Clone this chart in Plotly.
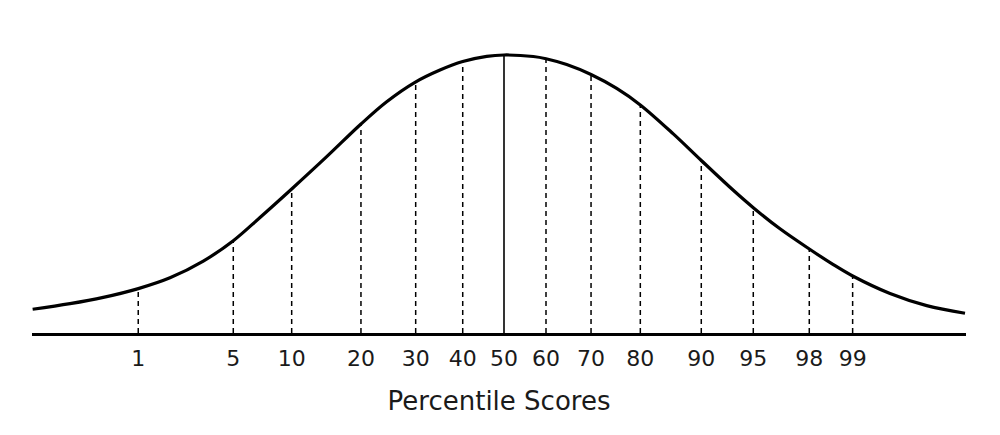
import plotly.graph_objects as go

# Percentile markers: label, position on the score axis (SD units), curve height relative to peak
percentile_labels = ["1", "5", "10", "20", "30", "40", "50", "60", "70", "80", "90", "95", "98", "99"]
percentile_pos = [-2.286, -1.692, -1.327, -0.894, -0.552, -0.258, 0.0, 0.2625, 0.544, 0.852, 1.233, 1.558, 1.908, 2.179]
percentile_height = [0.160, 0.332, 0.518, 0.752, 0.900, 0.976, 1.0, 0.987, 0.930, 0.820, 0.620, 0.451, 0.302, 0.205]

# Bell curve sample points
curve_x = [-2.946, -2.7125, -2.5044, -2.2856, -2.0875, -1.8794, -1.6919, -1.525, -1.3269, -1.1081,
           -0.8938, -0.7331, -0.5563, -0.40, -0.2581, -0.1081, 0.0, 0.1831, 0.2625, 0.3919,
           0.5438, 0.7044, 0.8519, 1.0581, 1.2331, 1.4331, 1.5581, 1.725, 1.9081, 2.0581,
           2.1794, 2.4125, 2.6419, 2.8813]
curve_y = [0.0853, 0.1054, 0.1281, 0.1597, 0.1986, 0.2586, 0.3320, 0.4155, 0.5180, 0.6342,
           0.7518, 0.8320, 0.9018, 0.9460, 0.9766, 0.9953, 1.0, 0.9946, 0.9867, 0.9658,
           0.9299, 0.8799, 0.8205, 0.7162, 0.6205, 0.5133, 0.4507, 0.3748, 0.3022, 0.2460,
           0.2050, 0.1421, 0.0986, 0.0709]

axis_title = "Percentile Scores"

fig = go.Figure()

# dashed guide lines (all except the median)
dx, dy = [], []
for lab, x, h in zip(percentile_labels, percentile_pos, percentile_height):
    if lab == "50":
        continue
    dx += [x, x, None]
    dy += [0, h, None]
fig.add_trace(go.Scatter(x=dx, y=dy, mode="lines",
                         line=dict(color="black", width=1.5, dash="5px,4px"),
                         hoverinfo="skip", showlegend=False))

# solid median line
mi = percentile_labels.index("50")
fig.add_trace(go.Scatter(x=[percentile_pos[mi], percentile_pos[mi]], y=[0, percentile_height[mi]],
                         mode="lines", line=dict(color="black", width=1.6),
                         hoverinfo="skip", showlegend=False))

# bell curve
fig.add_trace(go.Scatter(x=curve_x, y=curve_y, mode="lines",
                         line=dict(color="black", width=3.2, shape="spline", smoothing=1.0),
                         hoverinfo="skip", showlegend=False))

fig.update_layout(
    width=1000, height=435,
    margin=dict(l=32, r=34, t=0, b=102),
    paper_bgcolor="white", plot_bgcolor="white",
    font=dict(family="DejaVu Sans", color="#1a1a1a"),
    xaxis=dict(range=[-2.95, 2.8875], showgrid=False, zeroline=False,
               showline=True, linecolor="black", linewidth=3,
               tickmode="array", tickvals=percentile_pos, ticktext=percentile_labels,
               ticks="", ticklabelstandoff=4, tickfont=dict(size=22, color="#1a1a1a"),
               title=dict(text=axis_title, font=dict(size=26, color="#1a1a1a"), standoff=22)),
    yaxis=dict(range=[0, 1.1978], visible=False, showgrid=False, zeroline=False),
)

fig.write_html("out.html", config={"displayModeBar": False},
               post_script="document.body.style.margin='0';")
